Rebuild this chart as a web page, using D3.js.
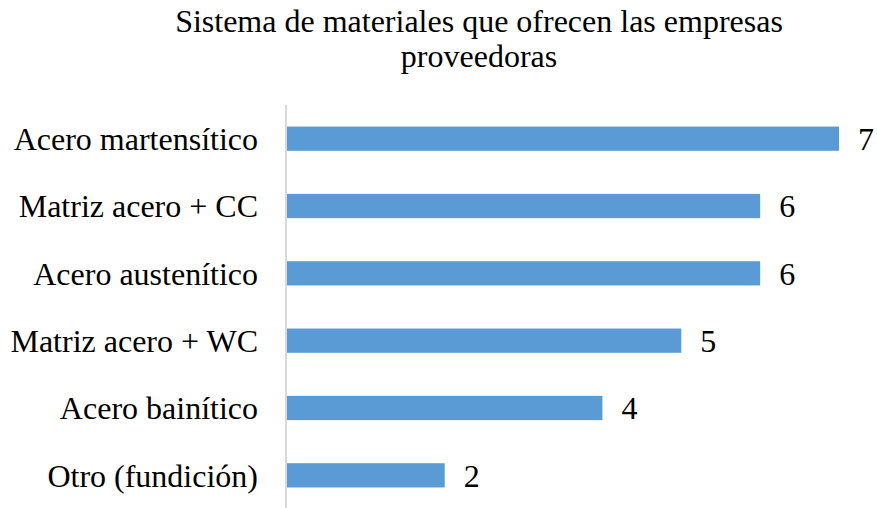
<!DOCTYPE html>
<html>
<head>
<meta charset="utf-8">
<script src="https://cdn.jsdelivr.net/npm/d3@7"></script>
<style>
body { margin: 0; background: #fff; }
text { font-family: "Liberation Serif", "Times New Roman", serif; fill: #000; }
</style>
</head>
<body>
<svg id="chart" width="877" height="508"></svg>
<script>
var categories = ["Acero martensítico", "Matriz acero + CC", "Acero austenítico", "Matriz acero + WC", "Acero bainítico", "Otro (fundición)"];
var values = [7, 6, 6, 5, 4, 2];
var titleLines = ["Sistema de materiales que ofrecen las empresas", "proveedoras"];

var svg = d3.select("#chart");
var plotLeft = 287, plotRight = 839, plotTop = 105, plotBottom = 509;

var x = d3.scaleLinear().domain([0, 7]).range([plotLeft, plotRight]);
var y = d3.scaleBand().domain(categories).range([plotTop, plotBottom]).paddingInner(0.64).paddingOuter(0.32);

// title
svg.append("g").selectAll("text")
	.data(titleLines)
	.enter().append("text")
	.attr("x", 479)
	.attr("y", function(d, i){ return 32 + i * 35; })
	.attr("text-anchor", "middle")
	.style("font-size", "32px")
	.text(function(d){ return d; });

// bars
svg.append("g").selectAll("rect")
	.data(values)
	.enter().append("rect")
	.attr("x", x(0))
	.attr("y", function(d, i){ return y(categories[i]); })
	.attr("width", function(d){ return x(d) - x(0); })
	.attr("height", y.bandwidth())
	.attr("fill", "#5b9bd5");

// axis line
svg.append("line")
	.attr("x1", plotLeft - 1).attr("x2", plotLeft - 1)
	.attr("y1", plotTop).attr("y2", plotBottom)
	.attr("stroke", "#d9d9d9")
	.attr("stroke-width", 2);

// category labels
svg.append("g").selectAll("text")
	.data(categories)
	.enter().append("text")
	.attr("x", 258)
	.attr("y", function(d){ return y(d) + y.bandwidth() / 2; })
	.attr("dy", "0.35em")
	.attr("text-anchor", "end")
	.style("font-size", "32px")
	.text(function(d){ return d; });

// value labels
svg.append("g").selectAll("text")
	.data(values)
	.enter().append("text")
	.attr("x", function(d){ return x(d) + 19; })
	.attr("y", function(d, i){ return y(categories[i]) + y.bandwidth() / 2; })
	.attr("dy", "0.35em")
	.style("font-size", "32px")
	.text(function(d){ return d; });
</script>
</body>
</html>
